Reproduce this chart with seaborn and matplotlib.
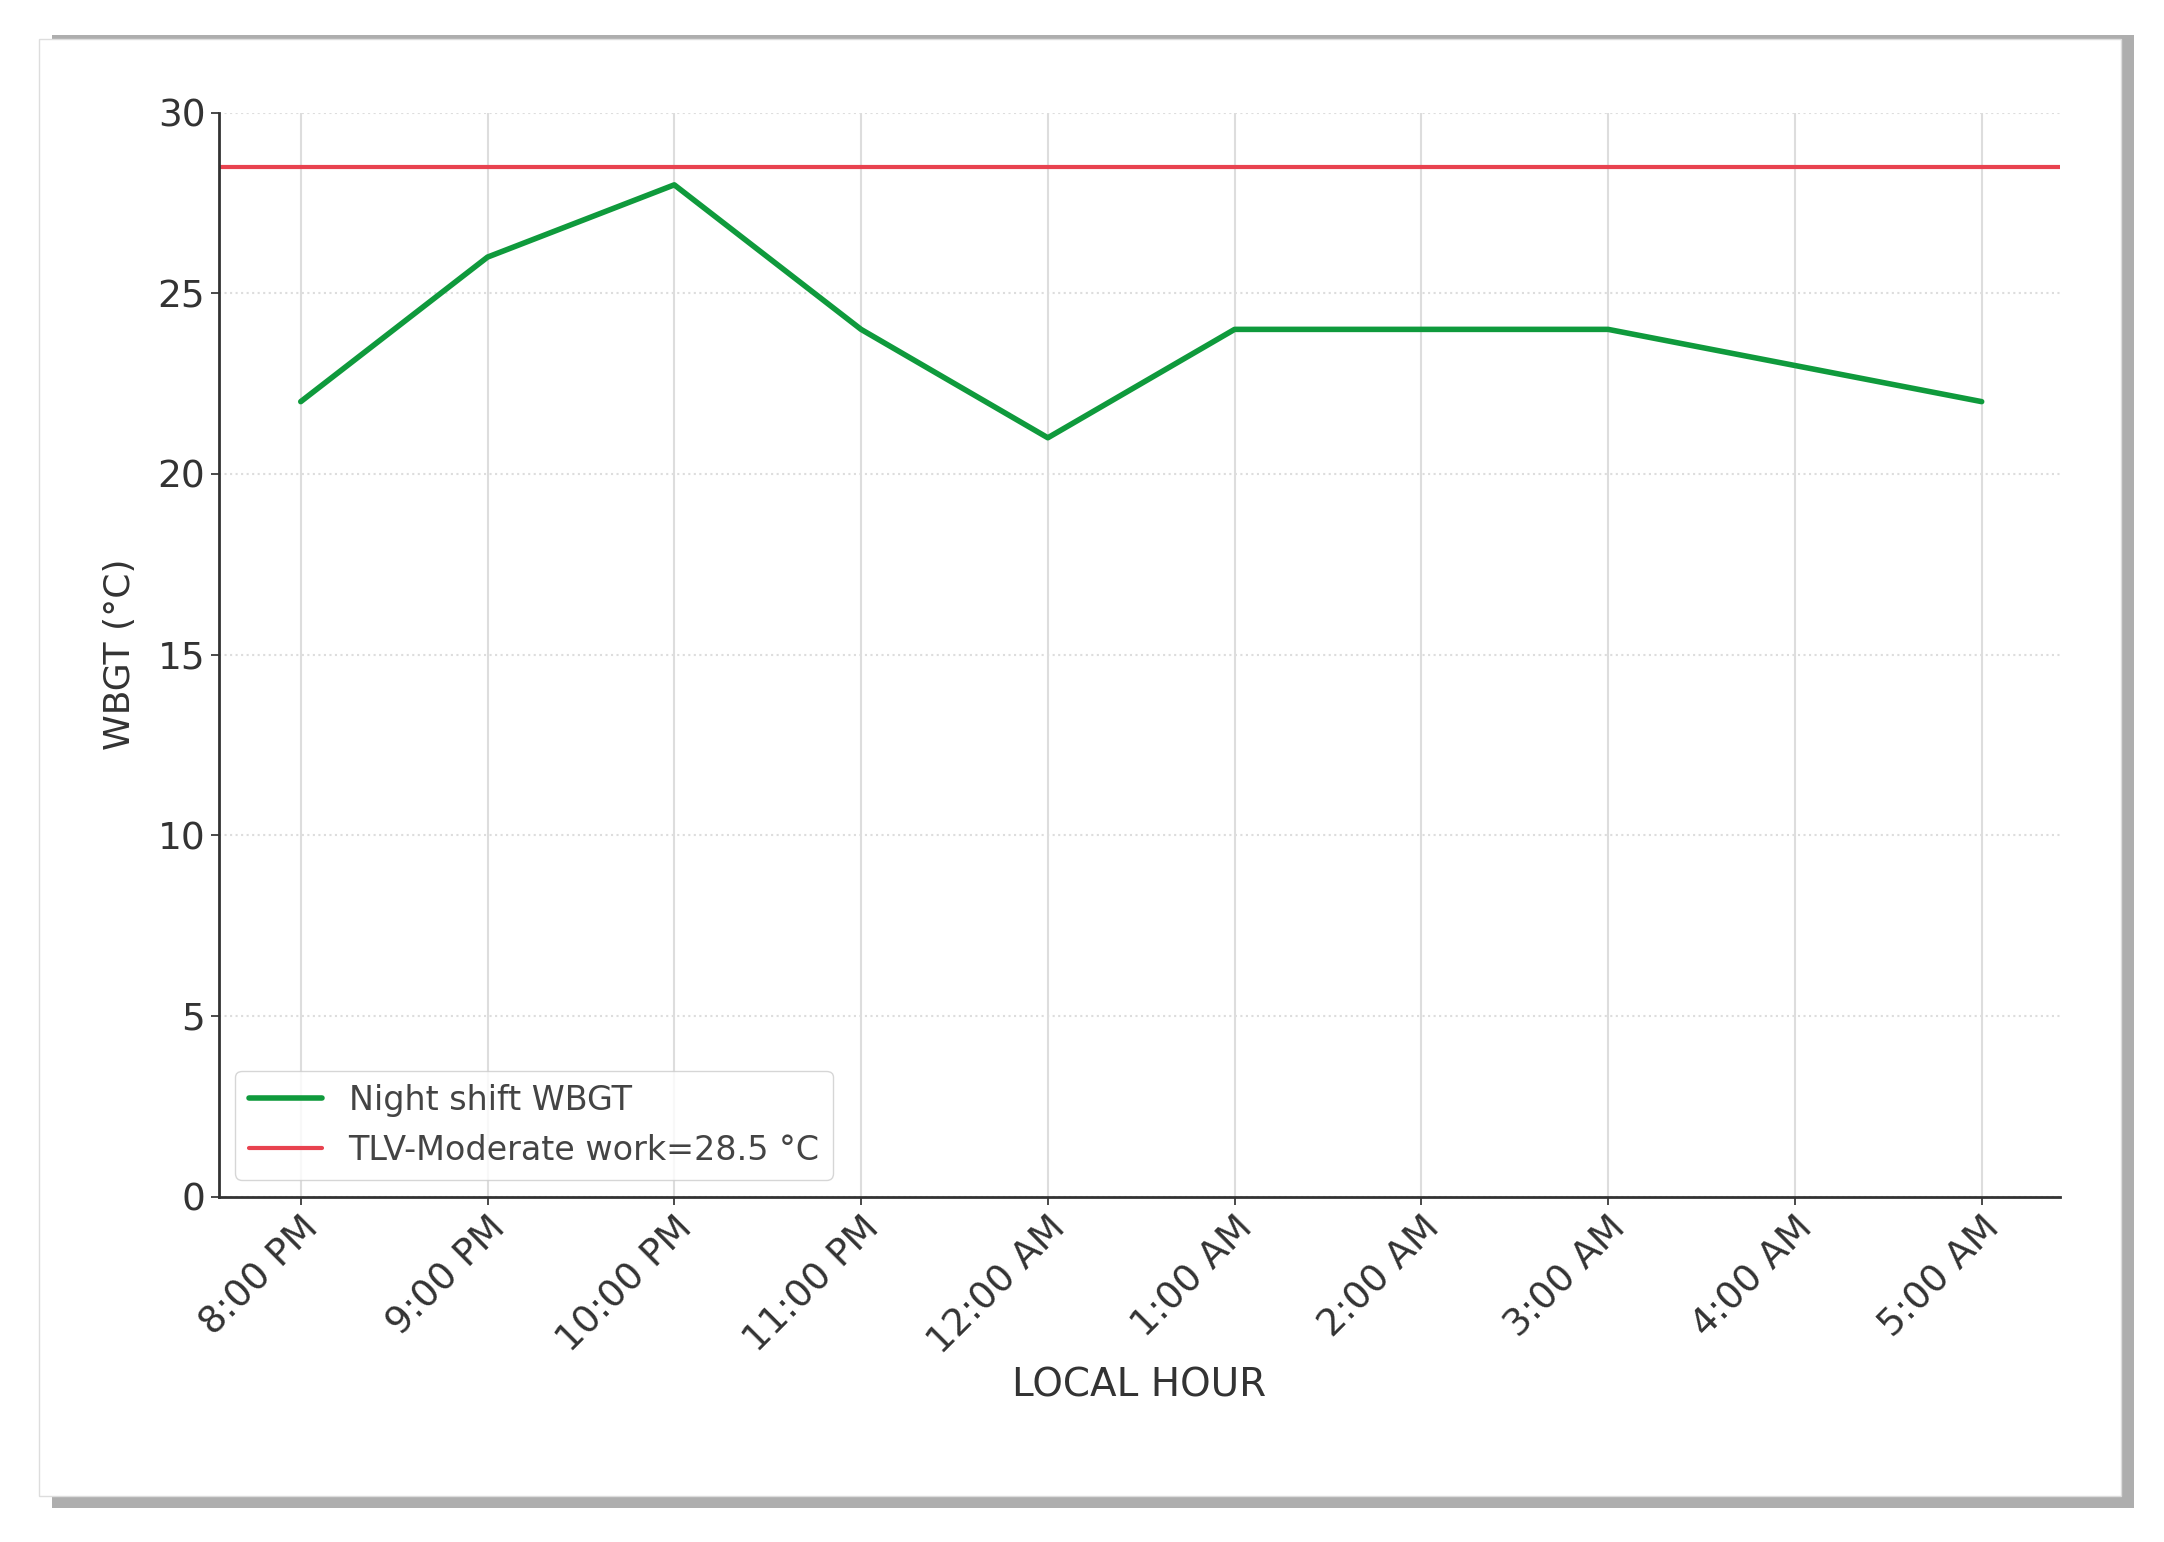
import matplotlib
matplotlib.use("Agg")
import matplotlib.pyplot as plt
import seaborn as sns
import pandas as pd
from matplotlib.patches import Rectangle

hours = ["8:00 PM", "9:00 PM", "10:00 PM", "11:00 PM", "12:00 AM",
         "1:00 AM", "2:00 AM", "3:00 AM", "4:00 AM", "5:00 AM"]
wbgt = [22, 26, 28, 24, 21, 24, 24, 24, 23, 22]
tlv = 28.5

sns.set_theme(style="white")
plt.rcParams['font.family'] = ['DejaVu Sans']

df = pd.DataFrame({"pos": range(len(hours)), "wbgt": wbgt})

fig = plt.figure(figsize=(21.64, 15.42), dpi=100)
# card frame with shadow, kept behind the axes
fig.patches.append(Rectangle((0.024, 0.022), 0.962, 0.955, transform=fig.transFigure,
                             facecolor="#9a9a9a", edgecolor="none", zorder=-2, alpha=0.8))
fig.patches.append(Rectangle((0.018, 0.030), 0.962, 0.945, transform=fig.transFigure,
                             facecolor="white", edgecolor="#dddddd", zorder=-1))
ax = fig.add_axes([0.101, 0.224, 0.851, 0.703])
ax.set_facecolor("white")

ax.axhline(tlv, color="#e8424f", lw=3, label="TLV-Moderate work=28.5 °C")
sns.lineplot(data=df, x="pos", y="wbgt", ax=ax, color="#0f9a3c", lw=4,
             label="Night shift WBGT")

ax.set_xlim(-0.44, 9.42)
ax.set_ylim(0, 30)
ax.set_xticks(range(len(hours)))
ax.set_xticklabels(hours, rotation=45, ha="right", rotation_mode="anchor", fontsize=27, color="#333333")
ax.set_yticks(range(0, 31, 5))
ax.tick_params(axis="y", labelsize=27, colors="#333333", length=6, left=True)
ax.tick_params(axis="x", length=6, bottom=True, colors="#333333")
ax.grid(axis="x", color="#dddddd", lw=1.5)
ax.grid(axis="y", color="#dddddd", lw=1.5, ls=":")
for s in ["top", "right"]:
    ax.spines[s].set_visible(False)
for s in ["left", "bottom"]:
    ax.spines[s].set_color("#333333")
    ax.spines[s].set_linewidth(2)
ax.set_xlabel("LOCAL HOUR", fontsize=28, color="#333333")
ax.set_ylabel("WBGT (°C)", fontsize=26, color="#333333", labelpad=15)

h, l = ax.get_legend_handles_labels()
ax.legend(h[::-1], l[::-1], loc="lower left", fontsize=24, frameon=True,
          handlelength=2.2, labelcolor="#444444")

fig.savefig("out.png", dpi=100, facecolor="white")
